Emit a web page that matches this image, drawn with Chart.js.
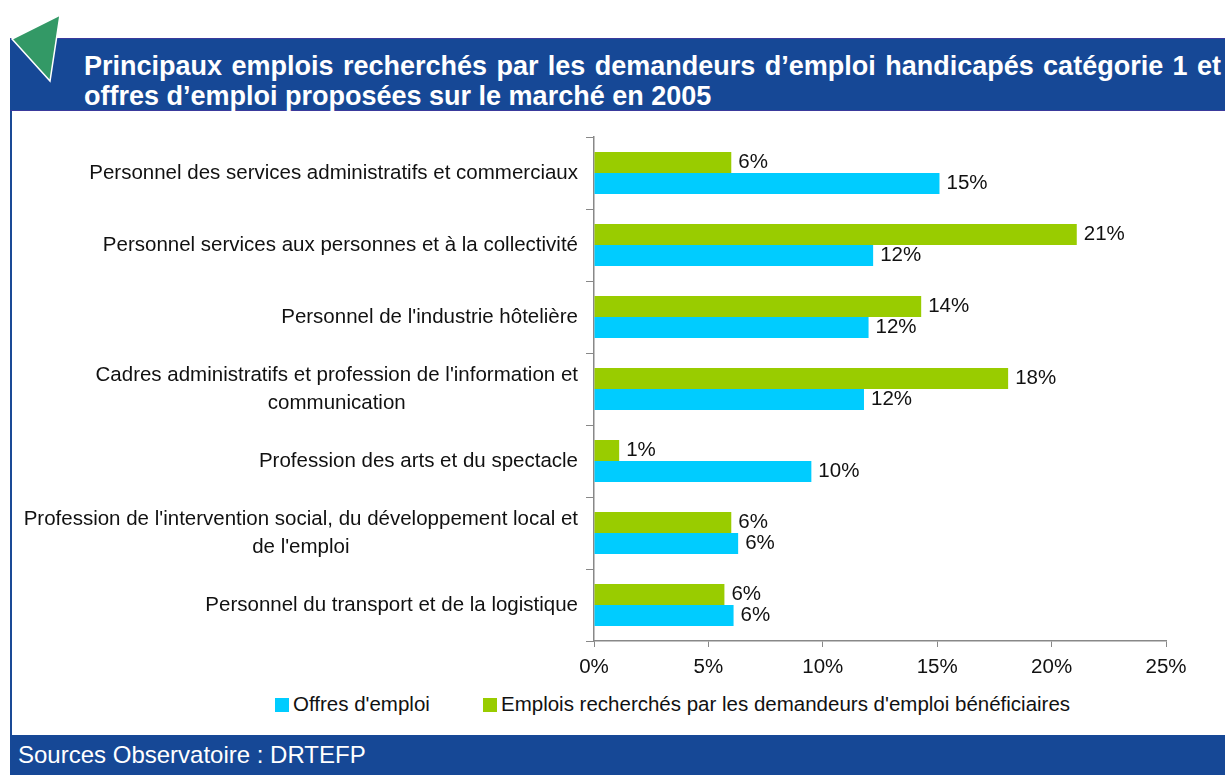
<!DOCTYPE html>
<html>
<head>
<meta charset="utf-8">
<script src="https://cdn.jsdelivr.net/npm/chart.js@4"></script>
<style>
  body { margin: 0; width: 1225px; height: 775px; background: #fff; position: relative; overflow: hidden; font-family: "Liberation Sans", Arial, sans-serif; }
  #leftBorder { position: absolute; left: 10px; top: 38px; width: 2px; height: 700px; background: #1a4a96; }
  #header { position: absolute; left: 10px; top: 38px; width: 1215px; height: 73px; background: #164896; border-top: 1px solid #3a3a9c; border-bottom: 1px solid #3a3a9c; box-sizing: border-box; }
  #title { position: absolute; left: 84px; top: 51px; width: 1137px; color: #fff; font-weight: bold; font-size: 27px; line-height: 30px; white-space: nowrap; }
  #title .l1 { text-align: justify; text-align-last: justify; white-space: normal; }
  #tri { position: absolute; left: 0; top: 0; }
  #footer { position: absolute; left: 10px; top: 735px; width: 1215px; height: 40px; background: #164896; color: #fff; font-size: 24px; line-height: 40px; padding-left: 8px; box-sizing: border-box; }
  #chartBox { position: absolute; left: 12px; top: 112px; width: 1213px; height: 578px; }
  .leg { position: absolute; top: 691px; font-size: 20.5px; color: #111; line-height: 26px; }
  .leg span { display: inline-block; width: 14px; height: 14px; margin-right: 4px; vertical-align: -1px; }
</style>
</head>
<body>
<div id="leftBorder"></div>
<div id="header"></div>
<svg id="tri" width="80" height="90">
  <polygon points="12,39 60,15 50,81" fill="#339966" stroke="#fff" stroke-width="1.5"/>
</svg>
<div id="title">
  <div class="l1">Principaux emplois recherchés par les demandeurs d’emploi handicapés catégorie 1 et</div>
  <div>offres d’emploi proposées sur le marché en 2005</div>
</div>
<div id="chartBox"><canvas id="jobsChart"></canvas></div>
<div class="leg" style="left:275px"><span style="background:#00ccff"></span>Offres d'emploi</div>
<div class="leg" style="left:483px"><span style="background:#99cc00"></span>Emplois recherchés par les demandeurs d'emploi bénéficiaires</div>
<div id="footer">Sources Observatoire : DRTEFP</div>

<script>
// categories (long ones split on two lines)
const jobCategories = [
    ['Personnel des services administratifs et commerciaux'],
    ['Personnel services aux personnes et à la collectivité'],
    ["Personnel de l'industrie hôtelière"],
    ["Cadres administratifs et profession de l'information et", 'communication'],
    ['Profession des arts et du spectacle'],
    ["Profession de l'intervention social, du développement local et", "de l'emploi"],
    ['Personnel du transport et de la logistique']
];
// % emplois recherchés par les demandeurs
const demandValues = [6.0, 21.1, 14.3, 18.1, 1.1, 6.0, 5.7];
// % offres d'emploi
const offerValues = [15.1, 12.2, 12.0, 11.8, 9.5, 6.3, 6.1];
const xTicks = [0, 5, 10, 15, 20, 25];

const labelFont = '20.5px "Liberation Sans", Arial, sans-serif';

// valeurs au bout des barres
const barValuesPlugin = {
    id: 'barValues',
    afterDatasetsDraw(chart) {
        const ctx = chart.ctx;
        ctx.save();
        ctx.font = labelFont;
        ctx.fillStyle = '#111';
        ctx.textAlign = 'left';
        ctx.textBaseline = 'middle';
        chart.data.datasets.forEach((ds, i) => {
            chart.getDatasetMeta(i).data.forEach((bar, j) => {
                ctx.fillText(Math.round(ds.data[j]) + '%', bar.x + 7, bar.y);
            });
        });
        ctx.restore();
    }
};

// libellés de catégories : alignés à droite, lignes centrées entre elles
const categoryLabelsPlugin = {
    id: 'categoryLabels',
    afterDraw(chart) {
        const ctx = chart.ctx;
        const yScale = chart.scales.y;
        const right = yScale.right - 16;
        const lineH = 28;
        ctx.save();
        ctx.font = labelFont;
        ctx.fillStyle = '#111';
        ctx.textAlign = 'center';
        ctx.textBaseline = 'middle';
        jobCategories.forEach((lines, i) => {
            const y = yScale.getPixelForValue(i);
            const widest = Math.max(...lines.map(l => ctx.measureText(l).width));
            const cx = right - widest / 2;
            lines.forEach((l, k) => {
                ctx.fillText(l, cx, y + (k - (lines.length - 1) / 2) * lineH);
            });
        });
        ctx.restore();
    }
};

const jobsCtx = document.getElementById('jobsChart').getContext('2d');
const jobsChart = new Chart(jobsCtx, {
    type: 'bar',
    data: {
        labels: jobCategories.map(l => l.join(' ')),
        datasets: [{
            label: "Emplois recherchés par les demandeurs d'emploi bénéficiaires",
            data: demandValues,
            backgroundColor: '#99cc00',
            barPercentage: 1,
            categoryPercentage: 0.583
        }, {
            label: "Offres d'emploi",
            data: offerValues,
            backgroundColor: '#00ccff',
            barPercentage: 1,
            categoryPercentage: 0.583
        }]
    },
    options: {
        indexAxis: 'y',
        responsive: true,
        maintainAspectRatio: false,
        animation: false,
        layout: {
            padding: { top: 25, right: 59, left: 0, bottom: 0 }
        },
        plugins: {
            legend: { display: false },
            tooltip: { enabled: false }
        },
        scales: {
            x: {
                min: 0,
                max: 25,
                afterBuildTicks: (scale) => { scale.ticks = xTicks.map(v => ({ value: v })); },
                afterFit: (scale) => { scale.height = 49; },
                ticks: {
                    callback: (v) => v + '%',
                    font: { family: '"Liberation Sans", Arial, sans-serif', size: 20.5 },
                    color: '#111',
                    padding: 8,
                    maxRotation: 0
                },
                grid: { drawOnChartArea: false, tickLength: 6, color: '#888' },
                border: { color: '#888', width: 1.5 }
            },
            y: {
                afterFit: (scale) => { scale.width = 582; },
                ticks: { display: false },
                grid: { drawOnChartArea: false, offset: true, tickLength: 8, color: '#888' },
                border: { color: '#888', width: 1.5 }
            }
        }
    },
    plugins: [barValuesPlugin, categoryLabelsPlugin]
});
</script>
</body>
</html>
